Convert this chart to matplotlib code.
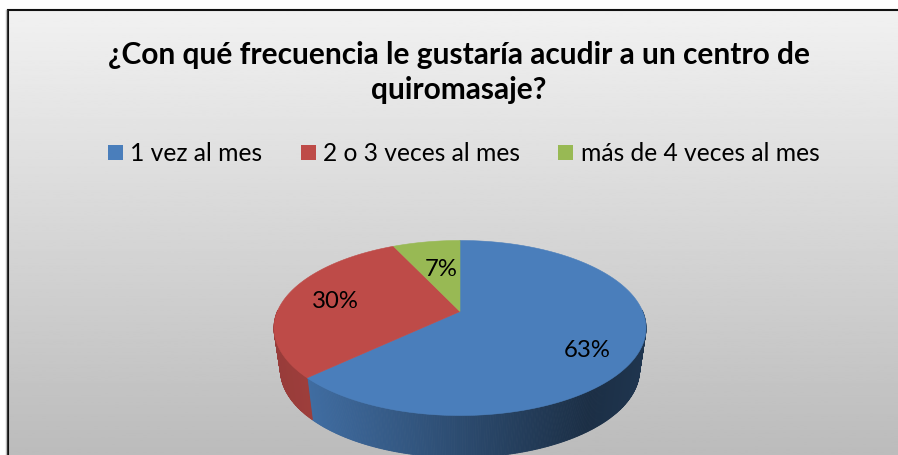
import numpy as np
import matplotlib
matplotlib.use("Agg")
import matplotlib.pyplot as plt
from matplotlib.patches import Polygon, Rectangle

title_lines = ["¿Con qué frecuencia le gustaría acudir a un centro de", "quiromasaje?"]
categories = ["1 vez al mes", "2 o 3 veces al mes", "más de 4 veces al mes"]
values = [63, 30, 7]
labels = ["63%", "30%", "7%"]
colors = ["#4A7EBB", "#BE4B48", "#98B954"]

plt.rcParams['font.family'] = ['Lato', 'DejaVu Sans']
W, H = 898, 456
fig = plt.figure(figsize=(W / 100, H / 100), dpi=100, facecolor="white")
ax = fig.add_axes([0, 0, 1, 1])
ax.set_xlim(0, W)
ax.set_ylim(H, 0)
ax.axis("off")

# panel: runs off the right and bottom edges of the picture
L, T = 8, 11
grad = np.linspace(0.945, 0.735, 256).reshape(-1, 1)
ax.imshow(grad, cmap="gray", vmin=0, vmax=1, extent=[L, W + 2, H, T], aspect="auto", zorder=0)
ax.set_xlim(0, W)
ax.set_ylim(H, 0)
ax.plot([L, L, W + 5], [H + 5, T, T], color="#111111", lw=1.5, zorder=1, solid_joinstyle="miter")
ax.plot([L - 2, L - 2], [T, H], color="#bbbbbb", lw=1.0, zorder=1)

# perspective disc
CX, CY, A, B, K, DEPTH, SHRINK = 460.0, 312.5, 182.7, 84.4, 0.1886, 42.0, 0.965


def top(t):
    w = 1 + K * np.sin(t)
    return CX + A * np.cos(t) / w, CY - B * np.sin(t) / w


def low(t):
    x, y = top(t)
    return CX + (x - CX) * SHRINK, y + DEPTH


def darken(c, f):
    return tuple(np.array(matplotlib.colors.to_rgb(c)) * f)


fracs = np.array(values) / sum(values)
edges = np.pi / 2 - 2 * np.pi * np.concatenate([[0], np.cumsum(fracs)])

# side wall
for i, col in enumerate(colors):
    a0, a1 = edges[i], edges[i + 1]
    ts = np.linspace(a0, a1, max(int(abs(a1 - a0) * 120), 2))
    for t0, t1 in zip(ts[:-1], ts[1:]):
        if np.sin((t0 + t1) / 2) > 0.02:
            continue
        x0, y0 = top(t0)
        x1, y1 = top(t1)
        x2, y2 = low(t1)
        x3, y3 = low(t0)
        xm = (x0 + x1) / 2
        # shading: light at the left, darkest at about x=590, a little lighter to the right
        if xm < 590:
            f = 0.92 - 0.55 * (xm - 275) / 315
        else:
            f = 0.37 + 0.05 * (xm - 590) / 55
        if i == 1:
            f = 0.80 + 0.03 * (xm - 275) / 35
        ax.add_patch(Polygon([(x0, y0), (x1, y1), (x2, y2), (x3, y3)],
                             closed=True, fc=darken(col, f), ec=darken(col, f), lw=0.6, zorder=2))

# top face
for i, col in enumerate(colors):
    ts = np.linspace(edges[i], edges[i + 1], 240)
    xs, ys = top(ts)
    pts = np.column_stack([np.r_[CX, xs], np.r_[CY, ys]])
    ax.add_patch(Polygon(pts, closed=True, fc=col, ec=col, lw=0.4, zorder=3))

# data labels
label_pos = [(587, 351), (335, 302), (441, 270)]
for s, (x, y) in zip(labels, label_pos):
    ax.text(x, y, s, ha="center", va="center", fontsize=17.2, color="black", zorder=5)

# title
ax.text(459, 55, title_lines[0], ha="center", va="center", fontsize=21.5, fontweight="bold", color="black")
ax.text(459, 90, title_lines[1], ha="center", va="center", fontsize=21.5, fontweight="bold", color="black")

# legend
sq_x = [108, 301, 558]
tx_x = [130, 323, 581]
for x, tx, c, s in zip(sq_x, tx_x, colors, categories):
    ax.add_patch(Rectangle((x, 146), 15, 15, fc=c, ec="none", zorder=3))
    ax.text(tx, 154, s, ha="left", va="center", fontsize=17.7, color="black")

fig.savefig("out.png", dpi=100)
